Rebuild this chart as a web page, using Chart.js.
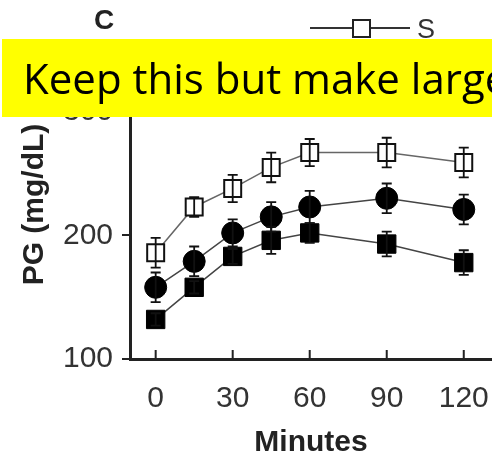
<!DOCTYPE html>
<html>
<head>
<meta charset="utf-8">
<script src="https://cdn.jsdelivr.net/npm/chart.js@4"></script>
<style>
  body { margin: 0; background: #fff; }
  #wrap { position: relative; width: 492px; height: 459px; overflow: hidden; }
  #chart { position: absolute; left: 0; top: 0; }
  .panel { position: absolute; left: 94px; top: 4px; font: bold 28px "Liberation Sans", Arial, sans-serif; color: #222; }
  .leg-line { position: absolute; left: 310px; top: 27px; width: 100px; height: 2px; background: #333; }
  .leg-box { position: absolute; left: 352px; top: 19px; width: 15px; height: 15px; border: 2px solid #222; background: #fff; }
  .leg-text { position: absolute; left: 417px; top: 14px; font: 27px "Liberation Sans", Arial, sans-serif; color: #333; }
  .banner { position: absolute; left: 2px; top: 39px; width: 490px; height: 78px; background: #ffff00;
            font: 42px "Open Sans", Lato, sans-serif; color: #000; white-space: nowrap; overflow: hidden; }
  .banner span { position: absolute; left: 21px; top: 39px; line-height: 0; }
</style>
</head>
<body>
<div id="wrap">
  <canvas id="chart" width="492" height="459"></canvas>
  <div class="panel">C</div>
  <div class="leg-line"></div>
  <div class="leg-box"></div>
  <div class="leg-text">S</div>
  <div class="banner"><span>Keep this but make larger</span></div>
</div>
<script>
const minutes = [0, 15, 30, 45, 60, 90, 120];
const xTicks = [0, 30, 60, 90, 120];
const yTicks = [100, 200, 300];

// open squares (S)
const sMean = [186, 223, 238, 255, 267, 267, 259];
const sErr  = [12, 8, 11, 12, 11, 12, 12];
// filled circles
const circleMean = [158, 179, 202, 215, 223, 230, 221];
const circleErr  = [12, 12, 11, 12, 13, 12, 12];
// filled squares
const squareMean = [132, 158, 183, 196, 202, 193, 178];
const squareErr  = [5, 5, 6, 11, 8, 10, 10];

function pts(means) {
    return minutes.map((m, i) => ({ x: m, y: means[i] }));
}

const errorBars = {
    id: "errorBars",
    afterDatasetsDraw(chart) {
        const ctx = chart.ctx;
        const ys = chart.scales.y;
        chart.data.datasets.forEach((ds, di) => {
            const meta = chart.getDatasetMeta(di);
            meta.data.forEach((el, i) => {
                const e = ds.err[i];
                const top = ys.getPixelForValue(ds.data[i].y + e);
                const bot = ys.getPixelForValue(ds.data[i].y - e);
                ctx.save();
                ctx.strokeStyle = "#111";
                ctx.lineWidth = 1.8;
                ctx.beginPath();
                ctx.moveTo(el.x, top); ctx.lineTo(el.x, bot);
                ctx.moveTo(el.x - 5, top); ctx.lineTo(el.x + 5, top);
                ctx.moveTo(el.x - 5, bot); ctx.lineTo(el.x + 5, bot);
                ctx.stroke();
                ctx.restore();
            });
        });
    }
};

// x ticks point inward (up into the plot)
const innerTicks = {
    id: "innerTicks",
    afterDraw(chart) {
        const ctx = chart.ctx;
        const xs = chart.scales.x;
        const y0 = chart.chartArea.bottom;
        ctx.save();
        ctx.strokeStyle = "#222";
        ctx.lineWidth = 2;
        ctx.beginPath();
        xTicks.forEach(t => {
            const px = xs.getPixelForValue(t);
            ctx.moveTo(px, y0); ctx.lineTo(px, y0 - 9);
        });
        ctx.stroke();
        ctx.restore();
    }
};

new Chart(document.getElementById("chart"), {
    type: "line",
    data: {
        datasets: [
            { label: "squares", data: pts(squareMean), err: squareErr,
              borderColor: "#444", borderWidth: 1.5, pointStyle: "rect", pointRadius: 13,
              pointBackgroundColor: "#000", pointBorderColor: "#000", pointBorderWidth: 1 },
            { label: "circles", data: pts(circleMean), err: circleErr,
              borderColor: "#444", borderWidth: 1.5, pointStyle: "circle", pointRadius: 11,
              pointBackgroundColor: "#000", pointBorderColor: "#000", pointBorderWidth: 1 },
            { label: "S", data: pts(sMean), err: sErr,
              borderColor: "#666", borderWidth: 1.5, pointStyle: "rect", pointRadius: 12,
              pointBackgroundColor: "#fff", pointBorderColor: "#111", pointBorderWidth: 2 }
        ]
    },
    options: {
        responsive: false,
        animation: false,
        layout: { autoPadding: false, padding: { top: 50, right: 0, left: 0, bottom: 0 } },
        plugins: { legend: { display: false }, tooltip: { enabled: false } },
        scales: {
            x: {
                type: "linear", min: -10, max: 131,
                afterBuildTicks: s => { s.ticks = xTicks.map(v => ({ value: v })); },
                afterFit: s => { s.height = 100; s.paddingLeft = 0; s.paddingRight = 0; },
                grid: { drawOnChartArea: false, drawTicks: false },
                border: { display: true, color: "#222", width: 3 },
                ticks: { padding: 22, color: "#333", font: { family: "Liberation Sans", size: 30 } },
                title: { display: true, text: "Minutes", color: "#222",
                         padding: { top: 0, bottom: 1 },
                         font: { family: "Liberation Sans", size: 30, weight: "bold", lineHeight: 1 } }
            },
            y: {
                type: "linear", min: 100, max: 350,
                afterBuildTicks: s => { s.ticks = yTicks.map(v => ({ value: v })); },
                afterFit: s => { s.width = 130; s.paddingTop = 0; s.paddingBottom = 0; },
                grid: { drawOnChartArea: false, drawTicks: true, tickLength: 8, color: "#222", lineWidth: 2 },
                border: { display: true, color: "#222", width: 3 },
                ticks: { padding: 9, color: "#333", font: { family: "Liberation Sans", size: 30 } },
                title: { display: true, text: "PG (mg/dL)", color: "#222",
                         padding: { top: 17, bottom: 0 },
                         font: { family: "Liberation Sans", size: 30, weight: "bold" } }
            }
        }
    },
    plugins: [errorBars, innerTicks]
});
</script>
</body>
</html>
